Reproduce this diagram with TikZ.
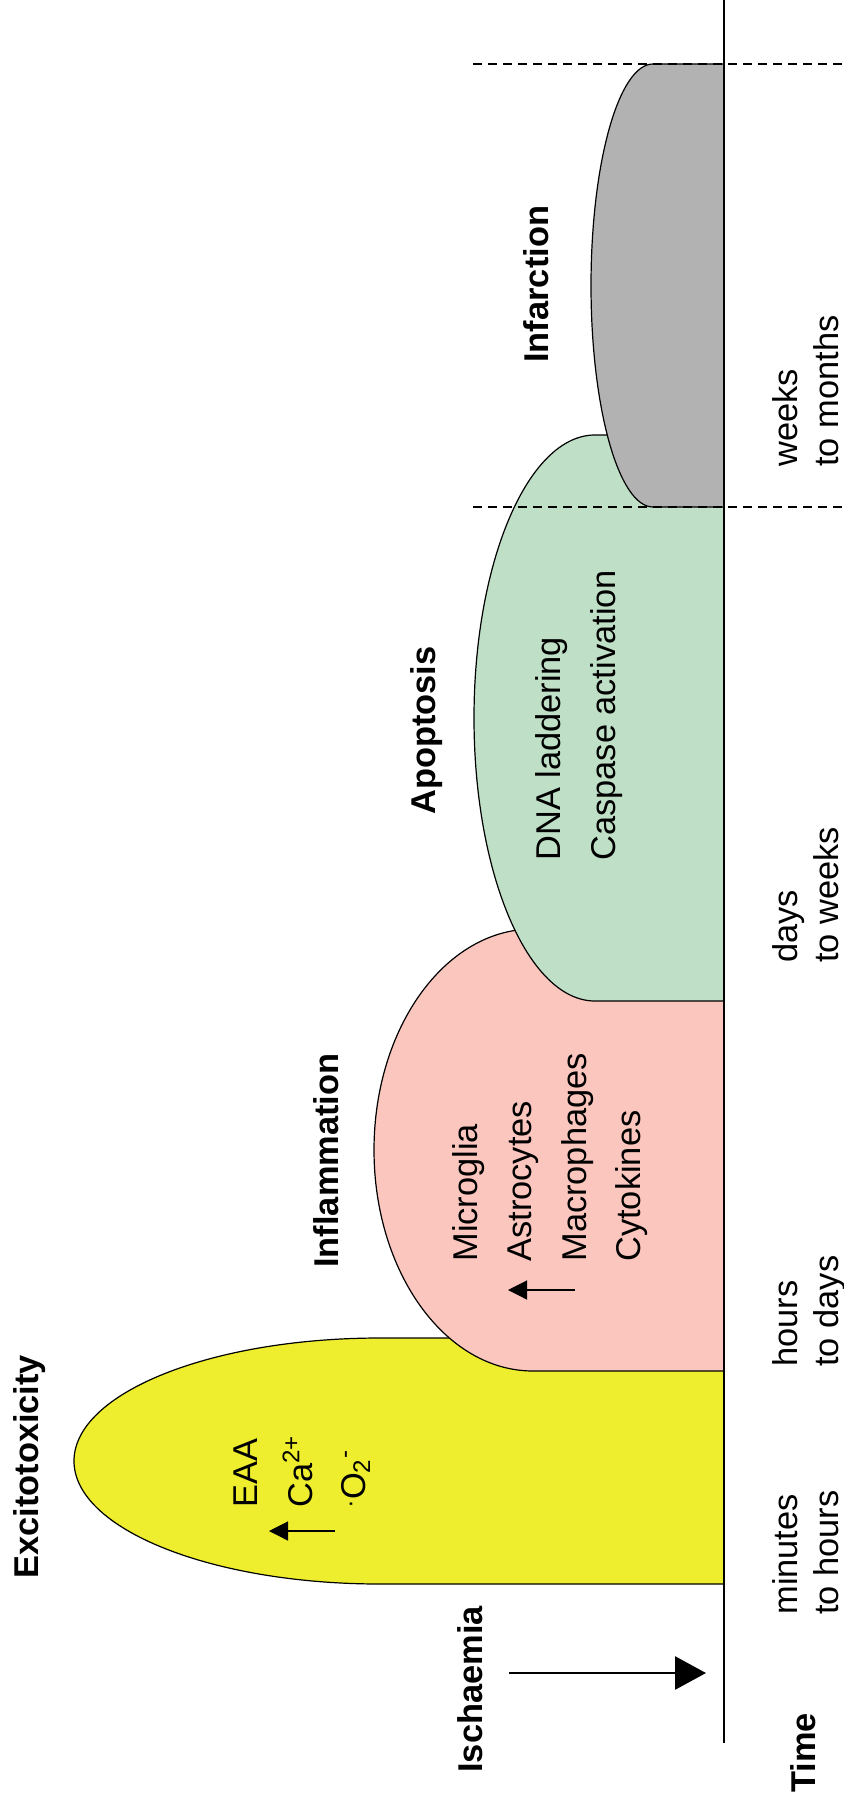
\documentclass[tikz,border=0pt]{standalone}
\usepackage{fontspec}
\setmainfont{Liberation Sans}
\usetikzlibrary{arrows.meta}
\definecolor{cyellow}{RGB}{238,238,46}
\definecolor{cpink}{RGB}{250,198,190}
\definecolor{cgreen}{RGB}{191,224,199}
\definecolor{cgray}{RGB}{178,178,178}
\begin{document}
\begin{tikzpicture}[x=0.5pt,y=0.5pt,
  lbl/.style={rotate=90,anchor=base west,inner sep=0pt,font=\fontsize{17.2}{20}\selectfont},
  blbl/.style={rotate=90,anchor=base west,inner sep=0pt,font=\fontsize{17.2}{20}\selectfont\bfseries},
  phase/.style={draw=black,line width=0.6pt},
  divider/.style={draw=black,dash pattern=on 4.5pt off 3pt,line width=0.7pt},
  axisline/.style={draw=black,line width=1pt},
  bigarrow/.style={draw=black,line width=1.4pt,-{Triangle[length=15.5pt,width=16.5pt]}},
  smallarrow/.style={draw=black,line width=0.6pt,-{Triangle[length=9.5pt,width=9.5pt]}}]
\useasboundingbox (0,0) rectangle (844,-1807);

% phases
\path[phase,fill=cyellow] (724,-1338) -- (380,-1338)
  arc[start angle=90,end angle=270,x radius=306,y radius=123] -- (724,-1584) -- cycle;
\path[phase,fill=cpink] (724,-929) -- (533,-929)
  arc[start angle=90,end angle=270,x radius=159,y radius=221] -- (724,-1371) -- cycle;
\path[phase,fill=cgreen] (724,-435) -- (595,-435)
  arc[start angle=90,end angle=270,x radius=121,y radius=283] -- (724,-1001) -- cycle;
\path[phase,fill=cgray] (724,-64) -- (653,-64)
  arc[start angle=90,end angle=270,x radius=62,y radius=221.5] -- (724,-507) -- cycle;

% axis and dividers
\coordinate (axtop) at (724,0);
\coordinate (axbot) at (724,-1743);
\draw[axisline] (axbot) -- (axtop);
\coordinate (d1a) at (473,-64);
\coordinate (d1b) at (844,-64);
\coordinate (d2a) at (473,-507);
\coordinate (d2b) at (844,-507);
\draw[divider] (d1a) -- (d1b);
\draw[divider] (d2a) -- (d2b);

% titles
\node[blbl] (time) at (815,-1793) {Time};
\node[blbl] (isch) at (482,-1773) {Ischaemia};
\node[blbl] (exc) at (38,-1579) {Excitotoxicity};
\node[blbl] (infl) at (338,-1268) {Inflammation};
\node[blbl] (apo) at (435,-815) {Apoptosis};
\node[blbl] (infa) at (548,-363) {Infarction};

% yellow contents
\node[lbl] (eaa) at (257,-1508) {EAA};
\node[lbl] (ca) at (312,-1508) {Ca\textsuperscript{2+}};
\node[lbl] (oxy) at (365,-1508) {\textsuperscript{.}O\textsubscript{2}\textsuperscript{-}};

% pink contents
\node[lbl] (micro) at (477,-1262) {Microglia};
\node[lbl] (astro) at (531.5,-1262) {Astrocytes};
\node[lbl] (macro) at (586,-1262) {Macrophages};
\node[lbl] (cyto) at (640.5,-1262) {Cytokines};

% green contents
\node[lbl] (dna) at (560,-861) {DNA laddering};
\node[lbl] (casp) at (615,-861) {Caspase activation};

% time labels
\node[lbl] (t1a) at (797,-1615) {minutes};
\node[lbl] (t1b) at (838,-1615) {to hours};
\node[lbl] (t2a) at (797,-1367) {hours};
\node[lbl] (t2b) at (838,-1367) {to days};
\node[lbl] (t3a) at (797,-963) {days};
\node[lbl] (t3b) at (838,-963) {to weeks};
\node[lbl] (t4a) at (797,-467) {weeks};
\node[lbl] (t4b) at (838,-467) {to months};

% arrows
\coordinate (ischtail) at (509,-1673);
\coordinate (ischtip) at (706,-1673);
\draw[bigarrow] (ischtail) -- (ischtip);
\coordinate (ytail) at (335,-1531);
\coordinate (ytip) at (269,-1531);
\draw[smallarrow] (ytail) -- (ytip);
\coordinate (ptail) at (575,-1290);
\coordinate (ptip) at (508,-1290);
\draw[smallarrow] (ptail) -- (ptip);
\end{tikzpicture}
\end{document}
